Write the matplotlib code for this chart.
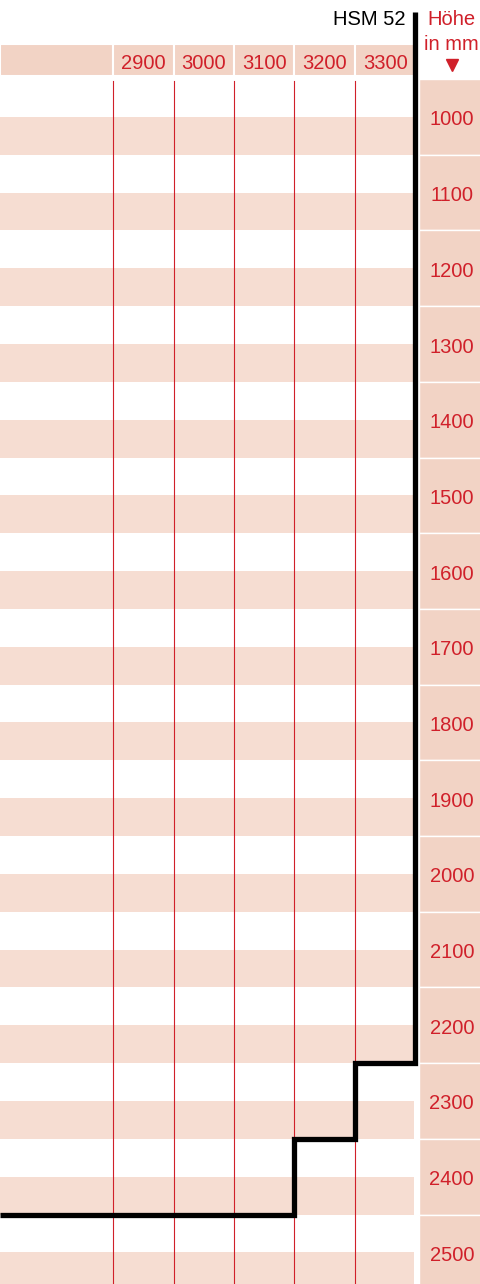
import numpy as np
import matplotlib.pyplot as plt
from matplotlib.patches import Rectangle

# widths (mm) per column and the height rows (mm)
widths = [2900, 3000, 3100, 3200, 3300]
heights = [1000, 1100, 1200, 1300, 1400, 1500, 1600, 1700, 1800,
           1900, 2000, 2100, 2200, 2300, 2400, 2500]
# max height reachable in each width column (step boundary)
max_height = [2450, 2450, 2450, 2350, 2250]
model = "HSM 52"

RED = "#d0202a"
PINK = "#f6ddd2"
PINK_DARK = "#f2d3c5"
plt.rcParams['font.family'] = ['Liberation Sans', 'DejaVu Sans']

fig = plt.figure(figsize=(4.81, 12.84), dpi=100)
ax = fig.add_axes([0, 0, 1, 1])
x_left, x_right = 2663.2, 3458.3
y_top, y_bot = 845.6, 2541.8
ax.set_xlim(x_left, x_right)
ax.set_ylim(y_bot, y_top)
ax.axis('off')

half = 50
col_left = widths[0] - half
col_right = widths[-1] + half
dy = 4  # nudge digits down to sit optically centred

# row stripes: white upper half, pink lower half
for h in heights:
    ax.add_patch(Rectangle((x_left, h), col_right - 2 - x_left, half,
                           facecolor=PINK, edgecolor='none', zorder=1))
    # height label cells on the right
    ax.add_patch(Rectangle((col_right + 5, h - half), x_right - col_right, 2 * half,
                           facecolor=PINK_DARK, edgecolor='white', lw=1.0, zorder=1))
    ax.text(3410, h + dy, str(h), color=RED, fontsize=14.5, ha='center', va='center', zorder=3)

# header band with width labels
hdr_top, hdr_bot = 904, 946
ax.add_patch(Rectangle((x_left, hdr_top), col_left - x_left, hdr_bot - hdr_top,
                       facecolor=PINK_DARK, edgecolor='white', lw=1.5, zorder=1))
for w in widths:
    ax.add_patch(Rectangle((w - half, hdr_top), 2 * half, hdr_bot - hdr_top,
                           facecolor=PINK_DARK, edgecolor='white', lw=1.5, zorder=1))
    ax.text(w, (hdr_top + hdr_bot) / 2 + dy, str(w), color=RED, fontsize=14.5,
            ha='center', va='center', zorder=3)

# thin red column dividers
for w in widths:
    ax.plot([w - half, w - half], [953, y_bot], color=RED, lw=0.8, zorder=2)

# step boundary line
xs = [col_right]
ys = [861]
for w, mh in zip(widths[::-1], max_height[::-1]):
    xs += [w + half, w - half]
    ys += [mh, mh]
xs.append(x_left)
ys.append(max_height[0])
ax.plot(xs, ys, color='black', lw=3.8, solid_joinstyle='miter',
        solid_capstyle='butt', zorder=4)

ax.text(3334, 871, model, color='black', fontsize=14.5, ha='right', va='center')
ax.text(3410, 871, "Höhe", color=RED, fontsize=14.5, ha='center', va='center')
ax.text(3410, 904, "in mm", color=RED, fontsize=14.5, ha='center', va='center')
ax.plot([3410], [932], marker='v', color=RED, markersize=8, zorder=3)

fig.savefig("out.png", dpi=100)
